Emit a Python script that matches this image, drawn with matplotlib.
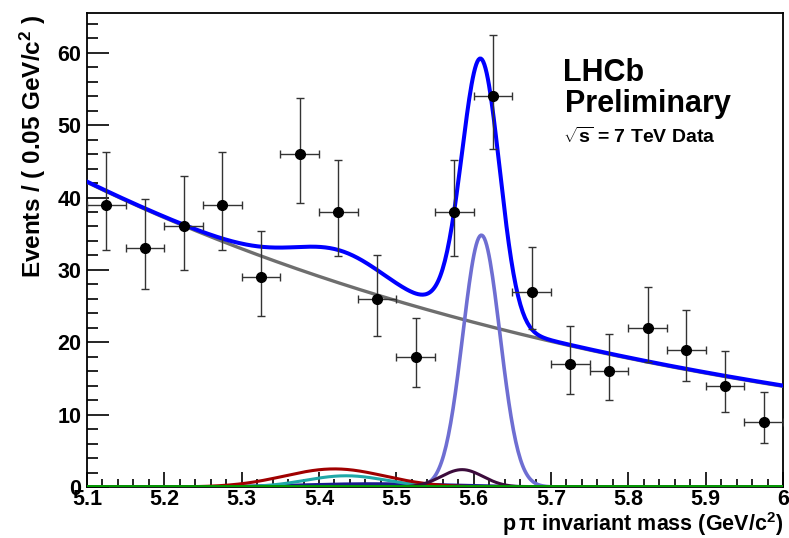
import numpy as np
import matplotlib.pyplot as plt
from matplotlib.ticker import MultipleLocator

plt.rcParams['font.family'] = ['Liberation Sans', 'DejaVu Sans']
plt.rcParams['font.weight'] = 'bold'
plt.rcParams['mathtext.fontset'] = 'custom'
plt.rcParams['mathtext.rm'] = 'Liberation Sans:bold'
plt.rcParams['mathtext.bf'] = 'Liberation Sans:bold'
plt.rcParams['mathtext.default'] = 'bf'

# data points (bin centres, counts, asymmetric poisson errors)
mass = [5.125, 5.175, 5.225, 5.275, 5.325, 5.375, 5.425, 5.475, 5.525,
        5.575, 5.625, 5.675, 5.725, 5.775, 5.825, 5.875, 5.925, 5.975]
events = [39, 33, 36, 39, 29, 46, 38, 26, 18, 38, 54, 27, 17, 16, 22, 19, 14, 9]
err_lo = [6.2, 5.7, 6.0, 6.2, 5.4, 6.8, 6.1, 5.1, 4.2, 6.1, 7.3, 5.2, 4.1, 4.0, 4.7, 4.3, 3.7, 2.9]
err_hi = [7.3, 6.8, 7.0, 7.3, 6.4, 7.8, 7.2, 6.1, 5.3, 7.2, 8.4, 6.2, 5.2, 5.1, 5.7, 5.4, 4.8, 4.1]
bin_half = 0.025

# fit model parameters
bkg_norm = 42.1
bkg_slope = -1.23
sig_mean, sig_width, sig_amp = 5.610, 0.024, 34.8
# (mean, sigma, amplitude, colour) for the small peaking components
parts = [
    (5.47, 0.10, 0.45, '#1a1a8c'),
    (5.435, 0.052, 1.55, '#20a8a8'),
    (5.42, 0.065, 2.5, '#a00000'),
    (5.585, 0.027, 2.4, '#3c0c3c'),
]
flat_level = 0.1


def gauss(x, m, s, a):
    return a * np.exp(-0.5 * ((x - m) / s) ** 2)


x = np.linspace(5.1, 6.0, 600)
bkg = bkg_norm * np.exp(bkg_slope * (x - 5.1))
sig = gauss(x, sig_mean, sig_width, sig_amp)
flat = np.full_like(x, flat_level)
total = bkg + sig + flat
for m, s, a, c in parts:
    total = total + gauss(x, m, s, a)

fig = plt.figure(figsize=(7.89, 5.38), dpi=100)
ax = fig.add_axes([87/789, 51/538, 696/789, 474/538])

ax.plot(x, bkg, color='#6e6e6e', lw=2.4, zorder=3)
ax.plot(x, total, color='#0000ff', lw=2.9, zorder=4)
ax.plot(x, sig, color='#6e6ed2', lw=2.6, zorder=3)
for m, s, a, c in parts:
    ax.plot(x, gauss(x, m, s, a), color=c, lw=2.2, zorder=3)
ax.plot(x, flat, color='#00a000', lw=2.0, zorder=3)

ax.errorbar(mass, events, xerr=bin_half, yerr=[err_lo, err_hi], fmt='o',
            color='black', ecolor='#333333', elinewidth=1.0, capsize=3,
            capthick=1.0, markersize=7, zorder=6)

ax.set_xlim(5.1, 6.0)
ax.set_ylim(0, 65.5)
ax.xaxis.set_major_locator(MultipleLocator(0.1))
ax.xaxis.set_minor_locator(MultipleLocator(0.02))
ax.yaxis.set_major_locator(MultipleLocator(10))
ax.yaxis.set_minor_locator(MultipleLocator(2))
ax.tick_params(which='both', direction='in', top=False, right=False,
               labelsize=15.5, width=1.2)
ax.tick_params(axis='x', which='major', length=11, pad=1.5)
ax.tick_params(axis='x', which='minor', length=6)
ax.tick_params(axis='y', which='major', length=16, pad=4)
ax.tick_params(axis='y', which='minor', length=8)
ax.set_xticks(np.round(np.arange(5.1, 6.01, 0.1), 1))
ax.set_xticklabels(['5.1', '5.2', '5.3', '5.4', '5.5', '5.6', '5.7', '5.8', '5.9', '6'])
for sp in ax.spines.values():
    sp.set_linewidth(1.3)

fig.text(33/789, 1 - 15/538, r'Events / ( 0.05 GeV/c$^{2}$ )', rotation=90,
         ha='center', va='top', fontsize=17.5, fontweight='bold')
fig.text(783/789, 1 - 531/538, r'p$\,\pi$ invariant mass (GeV/c$^{2}$)',
         ha='right', va='baseline', fontsize=15.5, fontweight='bold')

fig.text(563/789, 1 - 81/538, 'LHCb', fontsize=22, fontweight='bold',
         ha='left', va='baseline')
fig.text(565/789, 1 - 112/538, 'Preliminary', fontsize=22, fontweight='bold',
         ha='left', va='baseline')
fig.text(563/789, 1 - 143/538, r'$\sqrt{s}$ = 7 TeV Data', fontsize=14,
         fontweight='bold', ha='left', va='baseline')

fig.savefig('out.png', dpi=100)
